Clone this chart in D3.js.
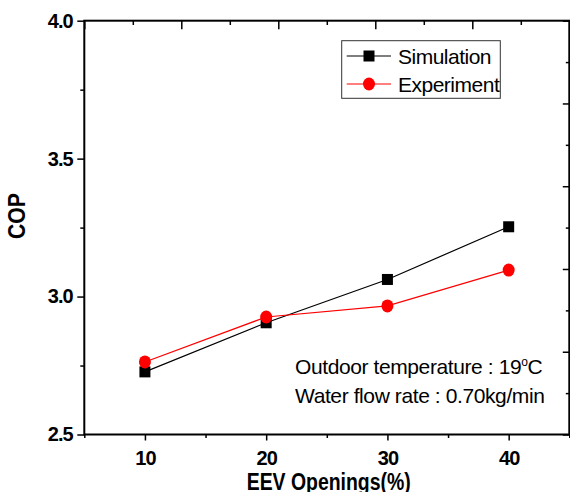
<!doctype html>
<html>
<head>
  <script src="https://cdn.jsdelivr.net/npm/d3@7"></script>
  <style>
    body { margin: 0; background: #fff; }
    text { font-family: "Liberation Sans", Arial, sans-serif; }
  </style>
</head>
<body>
<div id="viz"></div>
<script>
// data
var openings = [10, 20, 30, 40];
var simulation = [2.727, 2.905, 3.062, 3.253];
var experiment = [2.763, 2.926, 2.966, 3.096];
var yTicks = [2.5, 3.0, 3.5, 4.0];
var xTicks = [10, 20, 30, 40];
var seriesNames = ["Simulation", "Experiment"];
var noteLines = ["Outdoor temperature : 19", "Water flow rate : 0.70kg/min"];

var W = 570, H = 492;
var pLeft = 84.3, pRight = 569.3, pTop = 20.7, pBottom = 434.5;

var svg = d3.select("#viz").append("svg")
  .attr("width", W).attr("height", H);

var x = d3.scaleLinear().domain([5, 45]).range([pLeft, pRight]);
var y = d3.scaleLinear().domain([2.5, 4.0]).range([pBottom, pTop]);
// the top and right frame ticks come from a second layer with ten divisions
var xTop = d3.scaleLinear().domain([0, 10]).range([pLeft, pRight]);
var yRight = d3.scaleLinear().domain([0, 10]).range([pTop, pBottom]);

function styleAxis(g) {
  g.select(".domain").remove();
  g.selectAll("line").attr("stroke", "#000").attr("stroke-width", 1.5);
}

// left axis, major + minor
svg.append("g").attr("transform", "translate(" + pLeft + ",0)")
  .call(d3.axisLeft(y).tickValues(yTicks).tickFormat(d3.format(".1f"))
    .tickSize(7).tickPadding(4.5))
  .call(styleAxis)
  .selectAll("text")
  .style("font-size", "20px").style("font-weight", "bold")
  .style("letter-spacing", "-0.9px").attr("fill", "#000");
svg.append("g").attr("transform", "translate(" + pLeft + ",0)")
  .call(d3.axisLeft(y).tickValues([2.75, 3.25, 3.75]).tickFormat("").tickSize(4))
  .call(styleAxis);

// bottom axis, major + minor
svg.append("g").attr("transform", "translate(0," + pBottom + ")")
  .call(d3.axisBottom(x).tickValues(xTicks).tickFormat(d3.format("d"))
    .tickSize(6).tickPadding(10.5))
  .call(styleAxis)
  .selectAll("text")
  .style("font-size", "20px").style("font-weight", "bold")
  .style("letter-spacing", "-0.9px").attr("fill", "#000");
svg.append("g").attr("transform", "translate(0," + pBottom + ")")
  .call(d3.axisBottom(x).tickValues([5, 15, 25, 35, 45]).tickFormat("").tickSize(3.5))
  .call(styleAxis);

// top axis, ticks pointing inside
svg.append("g").attr("transform", "translate(0," + pTop + ")")
  .call(d3.axisTop(xTop).tickValues(d3.range(0, 11, 2)).tickFormat("").tickSize(-8.5))
  .call(styleAxis);
svg.append("g").attr("transform", "translate(0," + pTop + ")")
  .call(d3.axisTop(xTop).tickValues(d3.range(1, 10, 2)).tickFormat("").tickSize(-4.3))
  .call(styleAxis);

// right axis, ticks pointing inside
svg.append("g").attr("transform", "translate(" + pRight + ",0)")
  .call(d3.axisRight(yRight).tickValues(d3.range(0, 11, 2)).tickFormat("").tickSize(-6.5))
  .call(styleAxis);
svg.append("g").attr("transform", "translate(" + pRight + ",0)")
  .call(d3.axisRight(yRight).tickValues(d3.range(1, 10, 2)).tickFormat("").tickSize(-3.5))
  .call(styleAxis);

// frame
svg.append("rect")
  .attr("x", pLeft).attr("y", pTop)
  .attr("width", pRight - pLeft).attr("height", pBottom - pTop)
  .attr("fill", "none").attr("stroke", "#000").attr("stroke-width", 2);

// series
var line = d3.line().x((d, i) => x(openings[i])).y(d => y(d));

svg.append("path").datum(simulation)
  .attr("d", line).attr("fill", "none")
  .attr("stroke", "#000").attr("stroke-width", 1.2);
svg.selectAll(".sq").data(simulation).enter().append("rect")
  .attr("class", "sq")
  .attr("x", (d, i) => x(openings[i]) - 5.5)
  .attr("y", d => y(d) - 5.5)
  .attr("width", 11).attr("height", 11)
  .attr("fill", "#000");

svg.append("path").datum(experiment)
  .attr("d", line).attr("fill", "none")
  .attr("stroke", "#ff0000").attr("stroke-width", 1.2);
svg.selectAll(".dot").data(experiment).enter().append("ellipse")
  .attr("class", "dot")
  .attr("cx", (d, i) => x(openings[i]))
  .attr("cy", d => y(d))
  .attr("rx", 6).attr("ry", 6.5)
  .attr("fill", "#ff0000");

// legend
var lg = svg.append("g");
lg.append("rect")
  .attr("x", 341.7).attr("y", 40.7)
  .attr("width", 158.6).attr("height", 57.6)
  .attr("fill", "#fff").attr("stroke", "#333").attr("stroke-width", 1);
var rows = [56, 84];
var colors = ["#000", "#ff0000"];
rows.forEach(function(ry, i) {
  lg.append("line")
    .attr("x1", 346.7).attr("x2", 391).attr("y1", ry).attr("y2", ry)
    .attr("stroke", colors[i]).attr("stroke-width", 1.2);
  if (i === 0) {
    lg.append("rect").attr("x", 369 - 5.5).attr("y", ry - 5.5)
      .attr("width", 11).attr("height", 11).attr("fill", "#000");
  } else {
    lg.append("ellipse").attr("cx", 369).attr("cy", ry)
      .attr("rx", 6).attr("ry", 6.5).attr("fill", "#ff0000");
  }
  lg.append("text")
    .attr("x", 398).attr("y", ry + 7.8)
    .style("font-size", "21px").style("letter-spacing", "-0.5px")
    .text(seriesNames[i]);
});

// note
var n1 = svg.append("text")
  .attr("x", 295).attr("y", 373.5)
  .style("font-size", "21px").style("letter-spacing", "-0.4px")
  .text(noteLines[0]);
n1.append("tspan").attr("dy", -8).style("font-size", "12px").text("o");
n1.append("tspan").attr("dy", 8).text("C");
svg.append("text")
  .attr("x", 295).attr("y", 403)
  .style("font-size", "21px").style("letter-spacing", "-0.4px")
  .text(noteLines[1]);

// axis titles
svg.append("text")
  .attr("x", 328.7).attr("y", 490)
  .attr("text-anchor", "middle")
  .attr("textLength", 164).attr("lengthAdjust", "spacingAndGlyphs")
  .style("font-size", "23px").style("font-weight", "bold")
  .text("EEV Openings(%)");

svg.append("text")
  .attr("transform", "translate(25,216) rotate(-90)")
  .attr("text-anchor", "middle")
  .attr("textLength", 46).attr("lengthAdjust", "spacingAndGlyphs")
  .style("font-size", "23px").style("font-weight", "bold")
  .text("COP");
</script>
</body>
</html>
